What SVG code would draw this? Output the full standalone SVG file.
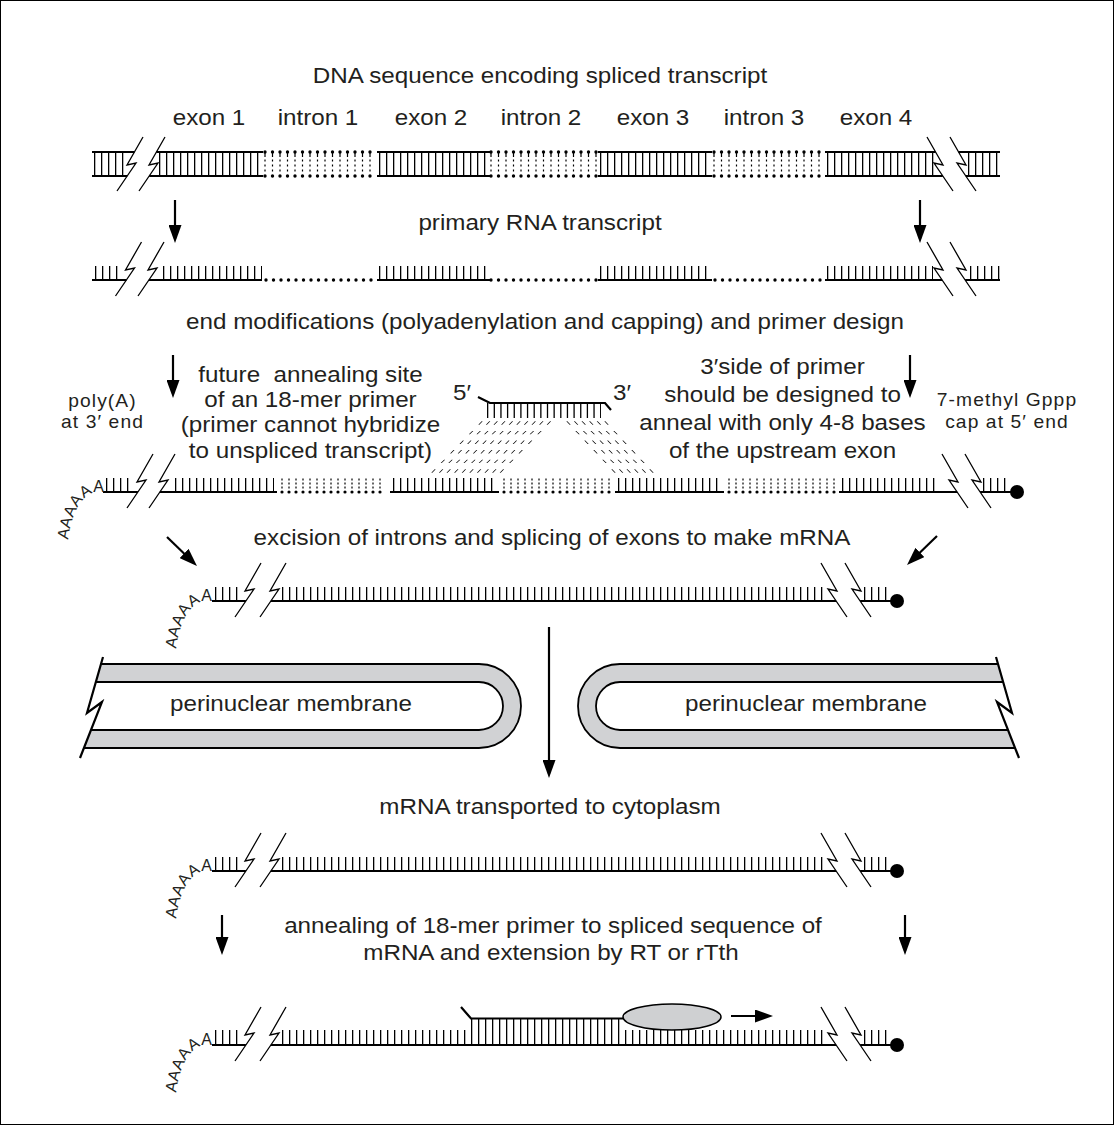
<svg xmlns="http://www.w3.org/2000/svg" width="1114" height="1125" viewBox="0 0 1114 1125">
<defs>
<style>
text{font-family:"Liberation Sans",Arial,Helvetica,sans-serif;fill:#231f20}
.t{font-size:22px;text-anchor:middle}
.sm{font-size:17.5px;text-anchor:middle;letter-spacing:1px}
.aa{font-size:16px;letter-spacing:0.5px}
.s{stroke:#000;stroke-width:2.2;fill:none}
.tk{stroke:#000;fill:none;stroke-dasharray:1.3 5.7}
.dot{stroke:#000;stroke-width:3.4;stroke-linecap:round;stroke-dasharray:0 7.5;fill:none}
.dot7{stroke:#000;stroke-width:3.2;stroke-linecap:round;stroke-dasharray:0 7;fill:none}
.dtk{stroke:#000;fill:none;stroke-dasharray:1.2 6.3}
.dtk7{stroke:#000;fill:none;stroke-dasharray:1.2 5.8}
.arr{stroke:#000;stroke-width:2.2;fill:none;marker-end:url(#ah)}
.mem{fill:#d1d2d4;stroke:none}
.ml{stroke:#000;stroke-width:1.8;fill:none}
.dash{stroke:#000;stroke-width:3.4;fill:none;stroke-dasharray:1 6.6}
</style>
<marker id="ah" viewBox="0 0 18 13" refX="14" refY="6.5" markerWidth="18" markerHeight="13" markerUnits="userSpaceOnUse" orient="auto">
<path d="M0 0L18 6.5L0 13Z" fill="#000"/>
</marker>
<path id="bL" d="M13 -27L-3 1L6 -1L-13 27" fill="none" stroke="#000" stroke-width="1.3"/>
<path id="bR" d="M-13 -27L3 1L-6 -1L13 27" fill="none" stroke="#000" stroke-width="1.3"/>
<path id="chain" d="M68 540C71 516 80 496 96 492L116 492" fill="none"/>
<!-- one intron of the double strand, drawn from x=0 -->
<g id="intr">
<path class="dot" d="M2 152H108M2 176H108"/>
<path class="dtk" stroke-width="5" d="M1.4 154.5H108"/>
<path class="dtk" stroke-width="2.2" d="M1.4 160.5H108M1.4 165.5H108M1.4 170.5H108"/>
</g>
</defs>

<rect width="1114" height="1125" fill="#fff"/>
<rect x="0.5" y="0.5" width="1113" height="1124" fill="none" stroke="#000" stroke-width="1"/>

<!-- titles and labels (type set slightly wide) -->
<g id="labels">
<text class="t" transform="translate(540 83) scale(1.1 1)">DNA sequence encoding spliced transcript</text>
<text class="t" transform="translate(209 125) scale(1.1 1)">exon 1</text>
<text class="t" transform="translate(318 125) scale(1.1 1)">intron 1</text>
<text class="t" transform="translate(431 125) scale(1.1 1)">exon 2</text>
<text class="t" transform="translate(541 125) scale(1.1 1)">intron 2</text>
<text class="t" transform="translate(653 125) scale(1.1 1)">exon 3</text>
<text class="t" transform="translate(764 125) scale(1.1 1)">intron 3</text>
<text class="t" transform="translate(876 125) scale(1.1 1)">exon 4</text>
<text class="t" transform="translate(540 230) scale(1.1 1)">primary RNA transcript</text>
<text class="t" transform="translate(545 329) scale(1.1 1)">end modifications (polyadenylation and capping) and primer design</text>
<text class="t" transform="translate(310.5 382) scale(1.1 1)" xml:space="preserve">future  annealing site</text>
<text class="t" transform="translate(310.5 407) scale(1.1 1)">of an 18-mer primer</text>
<text class="t" transform="translate(310.5 432) scale(1.1 1)">(primer cannot hybridize</text>
<text class="t" transform="translate(310.5 458) scale(1.1 1)">to unspliced transcript)</text>
<text class="t" transform="translate(782.5 374) scale(1.1 1)">3′side of primer</text>
<text class="t" transform="translate(782.5 402) scale(1.1 1)">should be designed to</text>
<text class="t" transform="translate(782.5 430) scale(1.1 1)">anneal with only 4-8 bases</text>
<text class="t" transform="translate(782.5 458) scale(1.1 1)">of the upstream exon</text>
<text class="sm" transform="translate(102.5 407) scale(1.1 1)">poly(A)</text>
<text class="sm" transform="translate(102.5 428) scale(1.1 1)">at 3′ end</text>
<text class="sm" transform="translate(1007 406) scale(1.1 1)">7-methyl Gppp</text>
<text class="sm" transform="translate(1007 428) scale(1.1 1)">cap at 5′ end</text>
<text class="t" transform="translate(462 400) scale(1.1 1)">5′</text>
<text class="t" transform="translate(622 400) scale(1.1 1)">3′</text>
<text class="t" transform="translate(552 545) scale(1.1 1)">excision of introns and splicing of exons to make mRNA</text>
<text class="t" transform="translate(550 814) scale(1.1 1)">mRNA transported to cytoplasm</text>
<text class="t" transform="translate(553 933) scale(1.1 1)">annealing of 18-mer primer to spliced sequence of</text>
<text class="t" transform="translate(551 960) scale(1.1 1)">mRNA and extension by RT or rTth</text>
</g>

<!-- genomic DNA -->
<g id="dna">
<path class="s" d="M92 152H134.4M92 176H127.2M156.4 152H263M149.2 176H263M377 152H490M377 176H490M598 152H712M598 176H712M825 152H935.6M825 176H942.8M958.6 152H1000M965.8 176H1000"/>
<path class="tk" stroke-width="22" d="M94 164H125M159 164H263M379 164H490M600 164H712M827 164H934M968 164H1000"/>
<use href="#intr" x="263"/>
<use href="#intr" x="489"/>
<use href="#intr" x="712"/>
<use href="#bL" x="130" y="164"/>
<use href="#bL" x="152" y="164"/>
<use href="#bR" x="940" y="164"/>
<use href="#bR" x="963" y="164"/>
</g>

<!-- primary transcript -->
<g id="pre-rna">
<path class="s" d="M92 280H126.4M148.9 280H262M377 280H490M598 280H712M825 280H942.1M965.1 280H1000"/>
<path class="tk" stroke-width="14" d="M95 273H122M163 273H262M379 273H490M600 273H712M827 273H933M970 273H1000"/>
<path class="dot" d="M266 280H376M491 280H597M715 280H821"/>
<use href="#bL" x="128.5" y="269"/>
<use href="#bL" x="151" y="269"/>
<use href="#bR" x="940" y="269"/>
<use href="#bR" x="963" y="269"/>
</g>

<!-- modified transcript with poly(A) tail and cap -->
<g id="capped-rna">
<path class="s" d="M103 492H137.9M159.9 492H277M390 492H499M615 492H724M839 492H957.1M980.1 492H1017"/>
<path class="tk" stroke-width="14" d="M106 485H131M175 485H274M393 485H498M618 485H721M842 485H940M983 485H1008"/>
<path class="dot7" d="M282 492H386M504 492H612M729 492H836"/>
<path class="dtk7" stroke-width="2" d="M281.4 479.5H386M281.4 483.5H386M281.4 487.5H386M503.4 479.5H612M503.4 483.5H612M503.4 487.5H612M728.4 479.5H836M728.4 483.5H836M728.4 487.5H836"/>
<use href="#bL" x="140" y="481"/>
<use href="#bL" x="162" y="481"/>
<use href="#bR" x="955" y="481"/>
<use href="#bR" x="978" y="481"/>
<circle cx="1017" cy="492" r="7" fill="#000"/>
<text class="aa"><textPath href="#chain">AAAAAA</textPath></text>
</g>

<!-- 18-mer primer above the exon 2 / exon 3 junction -->
<g id="primer">
<path class="s" d="M478 397L490 403H605L611 410"/>
<path class="tk" stroke-width="15" style="stroke-dasharray:1.3 5.35" d="M487 410.5H601"/>
</g>

<!-- base-pairing guides -->
<g id="guides">
<g transform="translate(0 423) skewX(-45)"><path class="dash" d="M480 0H553"/></g>
<g transform="translate(0 432.6) skewX(-45)"><path class="dash" d="M470.6 0H543.6"/></g>
<g transform="translate(0 442.2) skewX(-45)"><path class="dash" d="M461.2 0H534.2"/></g>
<g transform="translate(0 451.8) skewX(-45)"><path class="dash" d="M451.8 0H524.8"/></g>
<g transform="translate(0 461.4) skewX(-45)"><path class="dash" d="M442.4 0H515.4"/></g>
<g transform="translate(0 471) skewX(-45)"><path class="dash" d="M433 0H506"/></g>
<g transform="translate(0 423) skewX(45)"><path class="dash" d="M568 0H608"/></g>
<g transform="translate(0 432.6) skewX(45)"><path class="dash" d="M577 0H617"/></g>
<g transform="translate(0 442.2) skewX(45)"><path class="dash" d="M586 0H626"/></g>
<g transform="translate(0 451.8) skewX(45)"><path class="dash" d="M595 0H635"/></g>
<g transform="translate(0 461.4) skewX(45)"><path class="dash" d="M604 0H644"/></g>
<g transform="translate(0 471) skewX(45)"><path class="dash" d="M613 0H653"/></g>
</g>

<!-- spliced mRNA in the nucleus -->
<g id="mrna-nucleus">
<path class="s" d="M212 601H245.9M270.9 601H836.1M860.1 601H897"/>
<path class="tk" stroke-width="14" d="M215 594H240M282 594H826M864 594H890"/>
<use href="#bL" x="248" y="590"/>
<use href="#bL" x="273" y="590"/>
<use href="#bR" x="834" y="590"/>
<use href="#bR" x="858" y="590"/>
<circle cx="897" cy="601" r="7" fill="#000"/>
<text class="aa" transform="translate(108 109)"><textPath href="#chain">AAAAAA</textPath></text>
</g>

<!-- nuclear envelope -->
<g id="membrane-left">
<path class="mem" d="M101 664H479A42 42 0 0 1 479 748H83.9L102 702L87 713Z"/>
<path d="M95.9 682H479A24 24 0 0 1 479 730H91L102 702L87 713Z" fill="#fff"/>
<path class="ml" d="M101 664H479A42 42 0 0 1 479 748H83.9M95.9 682H479A24 24 0 0 1 479 730H91"/>
<path class="s" d="M103 657L87 713L102 702L80 758"/>
<text class="t" transform="translate(291 711) scale(1.1 1)">perinuclear membrane</text>
</g>
<g id="membrane-right">
<path class="mem" d="M998 664H620A42 42 0 0 0 620 748H1015.1L997 702L1012 713Z"/>
<path d="M1003.1 682H620A24 24 0 0 0 620 730H1008L997 702L1012 713Z" fill="#fff"/>
<path class="ml" d="M998 664H620A42 42 0 0 0 620 748H1015.1M1003.1 682H620A24 24 0 0 0 620 730H1008"/>
<path class="s" d="M996 657L1012 713L997 702L1019 758"/>
<text class="t" transform="translate(806 711) scale(1.1 1)">perinuclear membrane</text>
</g>

<!-- mRNA in the cytoplasm -->
<g id="mrna-cytoplasm">
<path class="s" d="M212 871H245.9M270.9 871H836.1M860.1 871H897"/>
<path class="tk" stroke-width="14" d="M215 864H240M282 864H826M864 864H890"/>
<use href="#bL" x="248" y="860"/>
<use href="#bL" x="273" y="860"/>
<use href="#bR" x="834" y="860"/>
<use href="#bR" x="858" y="860"/>
<circle cx="897" cy="871" r="7" fill="#000"/>
<text class="aa" transform="translate(108 379)"><textPath href="#chain">AAAAAA</textPath></text>
</g>

<!-- primer annealed and being extended -->
<g id="mrna-extension">
<path class="s" d="M212 1045H245.9M270.9 1045H836.1M860.1 1045H897"/>
<path class="tk" stroke-width="15" d="M215 1037.5H240M282 1037.5H466M625 1037.5H826M864 1037.5H890"/>
<path class="tk" stroke-width="26.5" d="M471 1031.75H620"/>
<path class="s" d="M461 1007L471 1018.5H630"/>
<ellipse cx="672" cy="1017" rx="49" ry="13" fill="#cfd0d2" stroke="#000" stroke-width="1.5"/>
<use href="#bL" x="248" y="1034"/>
<use href="#bL" x="273" y="1034"/>
<use href="#bR" x="834" y="1034"/>
<use href="#bR" x="858" y="1034"/>
<circle cx="897" cy="1045" r="7" fill="#000"/>
<text class="aa" transform="translate(108 553)"><textPath href="#chain">AAAAAA</textPath></text>
</g>

<!-- process arrows -->
<g id="connectors">
<path class="arr" d="M175 200V239"/>
<path class="arr" d="M920 200V239"/>
<path class="arr" d="M173 355V394"/>
<path class="arr" d="M910 355V394"/>
<path class="arr" d="M167 537L194.1 563.2"/>
<path class="arr" d="M937 536L909.9 562.2"/>
<path class="arr" d="M549 627V774"/>
<path class="arr" d="M222 915V951"/>
<path class="arr" d="M905 915V951"/>
<path class="arr" d="M731 1016H769"/>
</g>
</svg>
